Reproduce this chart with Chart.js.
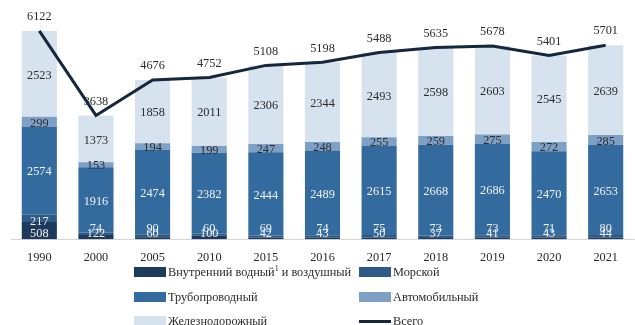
<!DOCTYPE html>
<html lang="ru">
<head>
<meta charset="utf-8">
<script src="https://cdn.jsdelivr.net/npm/chart.js@4/dist/chart.umd.min.js"></script>
<style>
  html, body { margin: 0; padding: 0; background: #ffffff; }
  body { width: 635px; height: 325px; position: relative; overflow: hidden;
         font-family: "Liberation Serif", "DejaVu Serif", serif; color: #2b2b2b; }
  #wrap { position: absolute; left: 0; top: 0; width: 635px; height: 276px; }
  #legend { position: absolute; left: 0; top: 0; }
  .lg { position: absolute; font-size: 12.3px; line-height: 14px; white-space: nowrap; }
  .lg .box { position: absolute; left: 0; top: 2px; width: 32px; height: 10px; }
  .lg .ln { position: absolute; left: 0; top: 6px; width: 32px; height: 3px; }
  .lg .tx { position: absolute; left: 34px; top: 0; }
  .lg sup { font-size: 8px; line-height: 0; vertical-align: 5px; }
</style>
</head>
<body>
<div id="wrap"><canvas id="chart" width="635" height="276"></canvas></div>
<div id="legend"></div>
<script>
// Грузооборот по видам транспорта, млрд т-км
const years = ['1990', '2000', '2005', '2010', '2015', '2016', '2017', '2018', '2019', '2020', '2021'];
const inlandAir = [508, 122, 60, 100, 42, 43, 50, 37, 41, 43, 44];
const sea       = [217, 74, 90, 60, 69, 74, 75, 73, 73, 71, 80];
const pipeline  = [2574, 1916, 2474, 2382, 2444, 2489, 2615, 2668, 2686, 2470, 2653];
const road      = [299, 153, 194, 199, 247, 248, 255, 259, 275, 272, 285];
const rail      = [2523, 1373, 1858, 2011, 2306, 2344, 2493, 2598, 2603, 2545, 2639];
const total     = [6122, 3638, 4676, 4752, 5108, 5198, 5488, 5635, 5678, 5401, 5701];

const seriesNames = ['Внутренний водный¹ и воздушный', 'Морской', 'Трубопроводный', 'Автомобильный', 'Железнодорожный', 'Всего'];

const FONT = '"Liberation Serif", "DejaVu Serif", serif';
const colors = ['#1d3a5c', '#2d5b87', '#336b9e', '#7ea0c4', '#d6e2ee'];
const lineColor = '#15263d';
const labelColors = ['#f2f2f2', '#f2f2f2', '#f2f2f2', '#2b2b2b', '#2b2b2b'];

const barSeries = [inlandAir, sea, pipeline, road, rail];
const datasets = barSeries.map((vals, i) => ({
  type: 'bar',
  label: seriesNames[i],
  data: vals,
  backgroundColor: colors[i],
  borderWidth: 0,
  categoryPercentage: 1,
  barPercentage: 0.62,
  yAxisID: 'y',
  order: 1
}));
datasets.push({
  type: 'line',
  label: seriesNames[5],
  data: total,
  borderColor: lineColor,
  borderWidth: 3,
  pointRadius: 0,
  tension: 0,
  fill: false,
  yAxisID: 'y2',
  order: 0
});

// Подписи значений: рисуются до линии «Всего», чтобы линия шла поверх
const valueLabels = {
  id: 'valueLabels',
  beforeDatasetDraw(chart, args) {
    if (args.index !== 5) return;
    const ctx = chart.ctx;
    ctx.save();
    ctx.font = '12.3px ' + FONT;
    ctx.textAlign = 'center';
    ctx.textBaseline = 'middle';
    const base = chart.scales.y.getPixelForValue(0);
    for (let d = 0; d < 5; d++) {
      const meta = chart.getDatasetMeta(d);
      ctx.fillStyle = labelColors[d];
      meta.data.forEach((el, i) => {
        let y = (el.y + el.base) / 2 + 1.5;
        if (d === 0) y = Math.min(y + 2, base - 5);
        if (d === 1) y = Math.min(y + 2, base - 10);
        ctx.fillText(String(barSeries[d][i]), el.x, y);
      });
    }
    const lm = chart.getDatasetMeta(5);
    ctx.fillStyle = '#2b2b2b';
    lm.data.forEach((pt, i) => {
      ctx.fillText(String(total[i]), pt.x, pt.y - 14);
    });
    ctx.restore();
  }
};

new Chart(document.getElementById('chart'), {
  data: { labels: years, datasets },
  options: {
    responsive: false,
    animation: false,
    layout: { padding: { left: 11, right: 1, top: 1, bottom: 0 } },
    plugins: { legend: { display: false }, tooltip: { enabled: false } },
    scales: {
      x: {
        stacked: true,
        grid: { display: false, drawTicks: false },
        border: { display: true, color: '#d4d4d4', width: 1 },
        ticks: { color: '#2b2b2b', font: { family: FONT, size: 12.3 }, padding: 11, maxRotation: 0 }
      },
      y: { stacked: true, display: false, min: 0, max: 7000 },
      y2: { stacked: false, display: false, min: 0, max: 7000 }
    }
  },
  plugins: [valueLabels]
});

// Легенда в две колонки под диаграммой
const legendPos = [
  [134, 265], [359, 265],
  [134, 290], [359, 290],
  [134, 314], [359, 314]
];
const legend = document.getElementById('legend');
seriesNames.forEach((name, i) => {
  const item = document.createElement('div');
  item.className = 'lg';
  item.style.left = legendPos[i][0] + 'px';
  item.style.top = legendPos[i][1] + 'px';
  const mark = document.createElement('span');
  if (i < 5) { mark.className = 'box'; mark.style.background = colors[i]; }
  else { mark.className = 'ln'; mark.style.background = lineColor; }
  const text = document.createElement('span');
  text.className = 'tx';
  text.innerHTML = name.replace('¹', '<sup>1</sup>');
  item.appendChild(mark);
  item.appendChild(text);
  legend.appendChild(item);
});
</script>
</body>
</html>
